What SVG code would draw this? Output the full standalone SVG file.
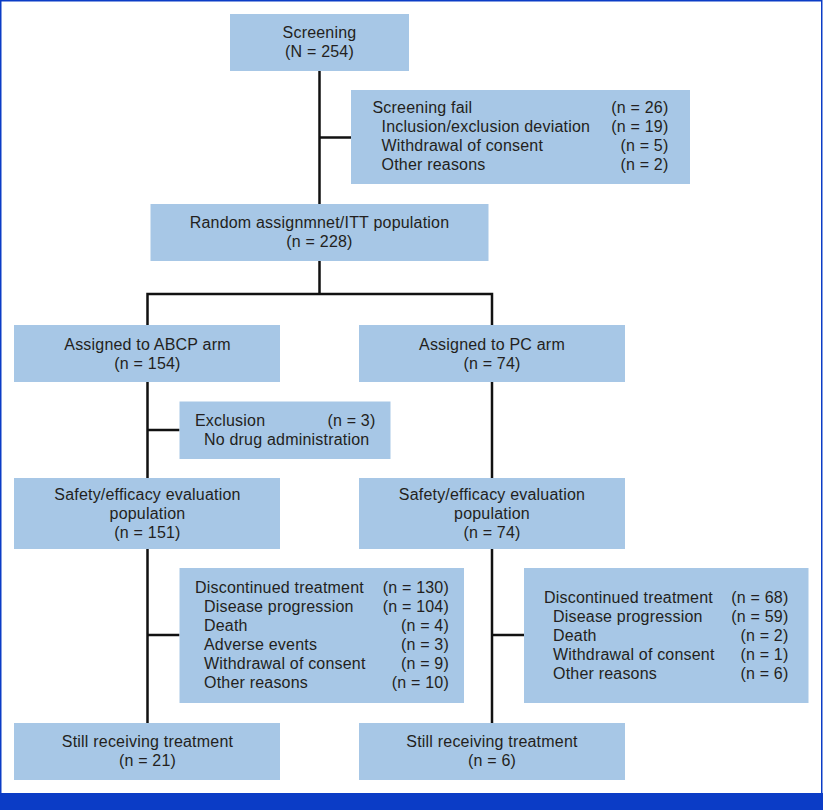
<svg xmlns="http://www.w3.org/2000/svg" width="823" height="810" viewBox="0 0 823 810">
<style>
.box{fill:#a7c7e6;}
.t{font-family:"Liberation Sans",Arial,sans-serif;font-size:16px;fill:#231f20;letter-spacing:0.2px;}
.c{text-anchor:middle;}
.r{text-anchor:end;}
.ln{stroke:#111;stroke-width:2.5;fill:none;stroke-linecap:butt;}
</style>
<rect x="0" y="0" width="823" height="810" fill="#ffffff"/>
<rect x="0.75" y="0.75" width="821" height="800" fill="none" stroke="#0b3cc6" stroke-width="1.5"/>
<rect x="0" y="793" width="823" height="17" fill="#0b3cc6"/>

<g id="connectors">
<path class="ln" d="M319.5 71 V204"/>
<path class="ln" d="M319.5 137.5 H351"/>
<path class="ln" d="M319.5 261 V294 M147.5 325 V294 H492 V325"/>
<path class="ln" d="M147.5 382 V478 M147.5 430 H179.5"/>
<path class="ln" d="M492 382 V478"/>
<path class="ln" d="M147.5 549 V723 M147.5 635 H179.5"/>
<path class="ln" d="M492 549 V723 M492 635 H524"/>
</g>

<g id="screening">
<rect class="box" x="230" y="14" width="179" height="57"/>
<text class="t c" x="319.5" y="38">Screening</text>
<text class="t c" x="319.5" y="57">(N = 254)</text>
</g>

<g id="screening-fail">
<rect class="box" x="351" y="90" width="339" height="94"/>
<text class="t" x="372.5" y="113">Screening fail</text>
<text class="t r" x="668.5" y="113">(n = 26)</text>
<text class="t" x="381.5" y="132">Inclusion/exclusion deviation</text>
<text class="t r" x="668.5" y="132">(n = 19)</text>
<text class="t" x="381.5" y="151">Withdrawal of consent</text>
<text class="t r" x="668.5" y="151">(n = 5)</text>
<text class="t" x="381.5" y="170">Other reasons</text>
<text class="t r" x="668.5" y="170">(n = 2)</text>
</g>

<g id="random">
<rect class="box" x="150.5" y="204" width="338" height="57"/>
<text class="t c" x="319.5" y="228">Random assignmnet/ITT population</text>
<text class="t c" x="319.5" y="247">(n = 228)</text>
</g>

<g id="abcp-arm">
<rect class="box" x="14" y="325" width="266" height="57"/>
<text class="t c" x="147.5" y="350">Assigned to ABCP arm</text>
<text class="t c" x="147.5" y="369">(n = 154)</text>
</g>

<g id="pc-arm">
<rect class="box" x="359" y="325" width="266" height="57"/>
<text class="t c" x="492" y="350">Assigned to PC arm</text>
<text class="t c" x="492" y="369">(n = 74)</text>
</g>

<g id="exclusion">
<rect class="box" x="179.5" y="401.5" width="211" height="57.5"/>
<text class="t" x="195" y="426">Exclusion</text>
<text class="t r" x="375.5" y="426">(n = 3)</text>
<text class="t" x="204" y="445">No drug administration</text>
</g>

<g id="abcp-safety">
<rect class="box" x="14" y="478" width="266" height="71"/>
<text class="t c" x="147.5" y="500">Safety/efficacy evaluation</text>
<text class="t c" x="147.5" y="519">population</text>
<text class="t c" x="147.5" y="538">(n = 151)</text>
</g>

<g id="pc-safety">
<rect class="box" x="359" y="478" width="266" height="71"/>
<text class="t c" x="492" y="500">Safety/efficacy evaluation</text>
<text class="t c" x="492" y="519">population</text>
<text class="t c" x="492" y="538">(n = 74)</text>
</g>

<g id="abcp-discontinued">
<rect class="box" x="179.5" y="568" width="284.5" height="135"/>
<text class="t" x="195" y="593">Discontinued treatment</text>
<text class="t r" x="449" y="593">(n = 130)</text>
<text class="t" x="204" y="612">Disease progression</text>
<text class="t r" x="449" y="612">(n = 104)</text>
<text class="t" x="204" y="631">Death</text>
<text class="t r" x="449" y="631">(n = 4)</text>
<text class="t" x="204" y="650">Adverse events</text>
<text class="t r" x="449" y="650">(n = 3)</text>
<text class="t" x="204" y="669">Withdrawal of consent</text>
<text class="t r" x="449" y="669">(n = 9)</text>
<text class="t" x="204" y="688">Other reasons</text>
<text class="t r" x="449" y="688">(n = 10)</text>
</g>

<g id="pc-discontinued">
<rect class="box" x="524" y="568" width="284.5" height="135"/>
<text class="t" x="544" y="603">Discontinued treatment</text>
<text class="t r" x="788.5" y="603">(n = 68)</text>
<text class="t" x="553" y="622">Disease progression</text>
<text class="t r" x="788.5" y="622">(n = 59)</text>
<text class="t" x="553" y="641">Death</text>
<text class="t r" x="788.5" y="641">(n = 2)</text>
<text class="t" x="553" y="660">Withdrawal of consent</text>
<text class="t r" x="788.5" y="660">(n = 1)</text>
<text class="t" x="553" y="679">Other reasons</text>
<text class="t r" x="788.5" y="679">(n = 6)</text>
</g>

<g id="abcp-still">
<rect class="box" x="14" y="723" width="266" height="57"/>
<text class="t c" x="147.5" y="747">Still receiving treatment</text>
<text class="t c" x="147.5" y="766">(n = 21)</text>
</g>

<g id="pc-still">
<rect class="box" x="359" y="723" width="266" height="57"/>
<text class="t c" x="492" y="747">Still receiving treatment</text>
<text class="t c" x="492" y="766">(n = 6)</text>
</g>
</svg>
